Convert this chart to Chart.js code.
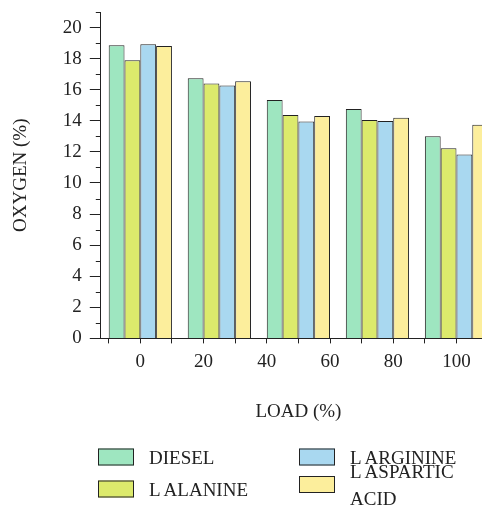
<!DOCTYPE html>
<html lang="en">
<head>
<meta charset="UTF-8">
<title>Oxygen vs load</title>
<script src="https://cdn.jsdelivr.net/npm/chart.js"></script>
<style>
  html, body { margin: 0; padding: 0; background: #fff; overflow: hidden; }
  #wrap { position: relative; width: 496px; height: 430px; }
  #legend { position: absolute; left: 0; top: 0; width: 482px; height: 506px; font-family: "Liberation Serif", serif; font-size: 19px; color: #222; }
  .item { position: absolute; display: flex; align-items: center; transform: translateY(-50%); }
  .box { width: 34px; height: 15px; border: 1px solid #222; margin-right: 15px; }
  .txt { width: 125px; line-height: 27px; }
</style>
</head>
<body>
<div id="wrap"><canvas id="oxyChart"></canvas></div>
<div id="legend"></div>
<script>
  // bar groups sit at 0, 25, 50, 75, 100 % load
  const loads = ['0', '25', '50', '75', '100'];
  const diesel = [18.86, 16.74, 15.34, 14.76, 13.01];
  const alanine = [17.89, 16.40, 14.37, 14.05, 12.24];
  const arginine = [18.92, 16.27, 13.96, 13.98, 11.83];
  const aspartic = [18.81, 16.55, 14.31, 14.20, 13.75];
  const seriesNames = ['DIESEL', 'L ALANINE', 'L ARGININE', 'L ASPARTIC ACID'];
  const seriesColors = ['#9ee6c0', '#dcea6c', '#a9d8f0', '#fcee9c'];
  const xTicks = [-10, 0, 10, 20, 30, 40, 50, 60, 70, 80, 90, 100, 110];
  const yTicks = [0, 2, 4, 6, 8, 10, 12, 14, 16, 18, 20];
  const yMinorTicks = [1, 3, 5, 7, 9, 11, 13, 15, 17, 19, 21];

  const font = { family: '"Liberation Serif", serif', size: 19 };
  const ink = '#222';

  // short minor ticks on the y axis
  const minorTicks = {
    id: 'minorTicks',
    afterDraw(chart) {
      const ctx = chart.ctx, y = chart.scales.y;
      ctx.save();
      ctx.strokeStyle = ink;
      ctx.lineWidth = 1;
      yMinorTicks.forEach(v => {
        const py = Math.round(y.getPixelForValue(v)) + 0.5;
        ctx.beginPath();
        ctx.moveTo(y.right - 5, py);
        ctx.lineTo(y.right, py);
        ctx.stroke();
      });
      ctx.restore();
    }
  };

  const allSeries = [diesel, alanine, arginine, aspartic];
  const chart = new Chart(document.getElementById('oxyChart'), {
    type: 'bar',
    data: {
      labels: loads,
      datasets: allSeries.map((d, i) => ({
        label: seriesNames[i],
        data: d,
        xAxisID: 'xc',
        backgroundColor: seriesColors[i],
        borderColor: ink,
        borderWidth: 1,
        categoryPercentage: 0.8,
        barPercentage: 1
      }))
    },
    options: {
      responsive: true,
      maintainAspectRatio: false,
      animation: false,
      layout: { padding: { left: 0, right: 0, top: 0, bottom: 7 } },
      plugins: { legend: { display: false }, tooltip: { enabled: false } },
      scales: {
        xc: { type: 'category', display: false, offset: true },
        x: {
          type: 'linear',
          position: 'bottom',
          bounds: 'data',
          offset: false,
          min: -12.5,
          max: 112.5,
          afterBuildTicks: axis => { axis.ticks = xTicks.map(v => ({ value: v })); },
          ticks: {
            autoSkip: false,
            includeBounds: false,
            maxRotation: 0,
            padding: 7,
            color: ink,
            font: font,
            callback: v => (v % 20 === 0 ? v : '')
          },
          grid: { drawOnChartArea: false, offset: false, tickLength: 5, color: ink },
          border: { color: ink, width: 1 },
          title: { display: true, text: 'LOAD (%)', color: ink, font: font, padding: { top: 20, bottom: 0 } }
        },
        y: {
          min: 0,
          max: 21,
          afterBuildTicks: axis => { axis.ticks = yTicks.map(v => ({ value: v })); },
          afterFit: axis => { axis.paddingTop = 12; },
          ticks: { padding: 8, color: ink, font: font },
          grid: { drawOnChartArea: false, tickLength: 11, color: ink },
          border: { color: ink, width: 1 },
          title: { display: true, text: 'OXYGEN (%)', color: ink, font: font, padding: { top: 10, bottom: 22 } }
        }
      }
    },
    plugins: [minorTicks]
  });

  // legend in two columns, built from the chart's datasets
  const legend = document.getElementById('legend');
  chart.data.datasets.forEach((ds, i) => {
    const col = Math.floor(i / 2), row = i % 2;
    const item = document.createElement('div');
    item.className = 'item';
    item.style.left = (98 + col * 201) + 'px';
    item.style.top = (457 + row * 31.5 - (i === 3 ? 4 : 0)) + 'px';
    item.innerHTML = '<div class="box" style="background:' + ds.backgroundColor + '"></div><div class="txt">' + ds.label + '</div>';
    legend.appendChild(item);
  });
</script>
</body>
</html>
